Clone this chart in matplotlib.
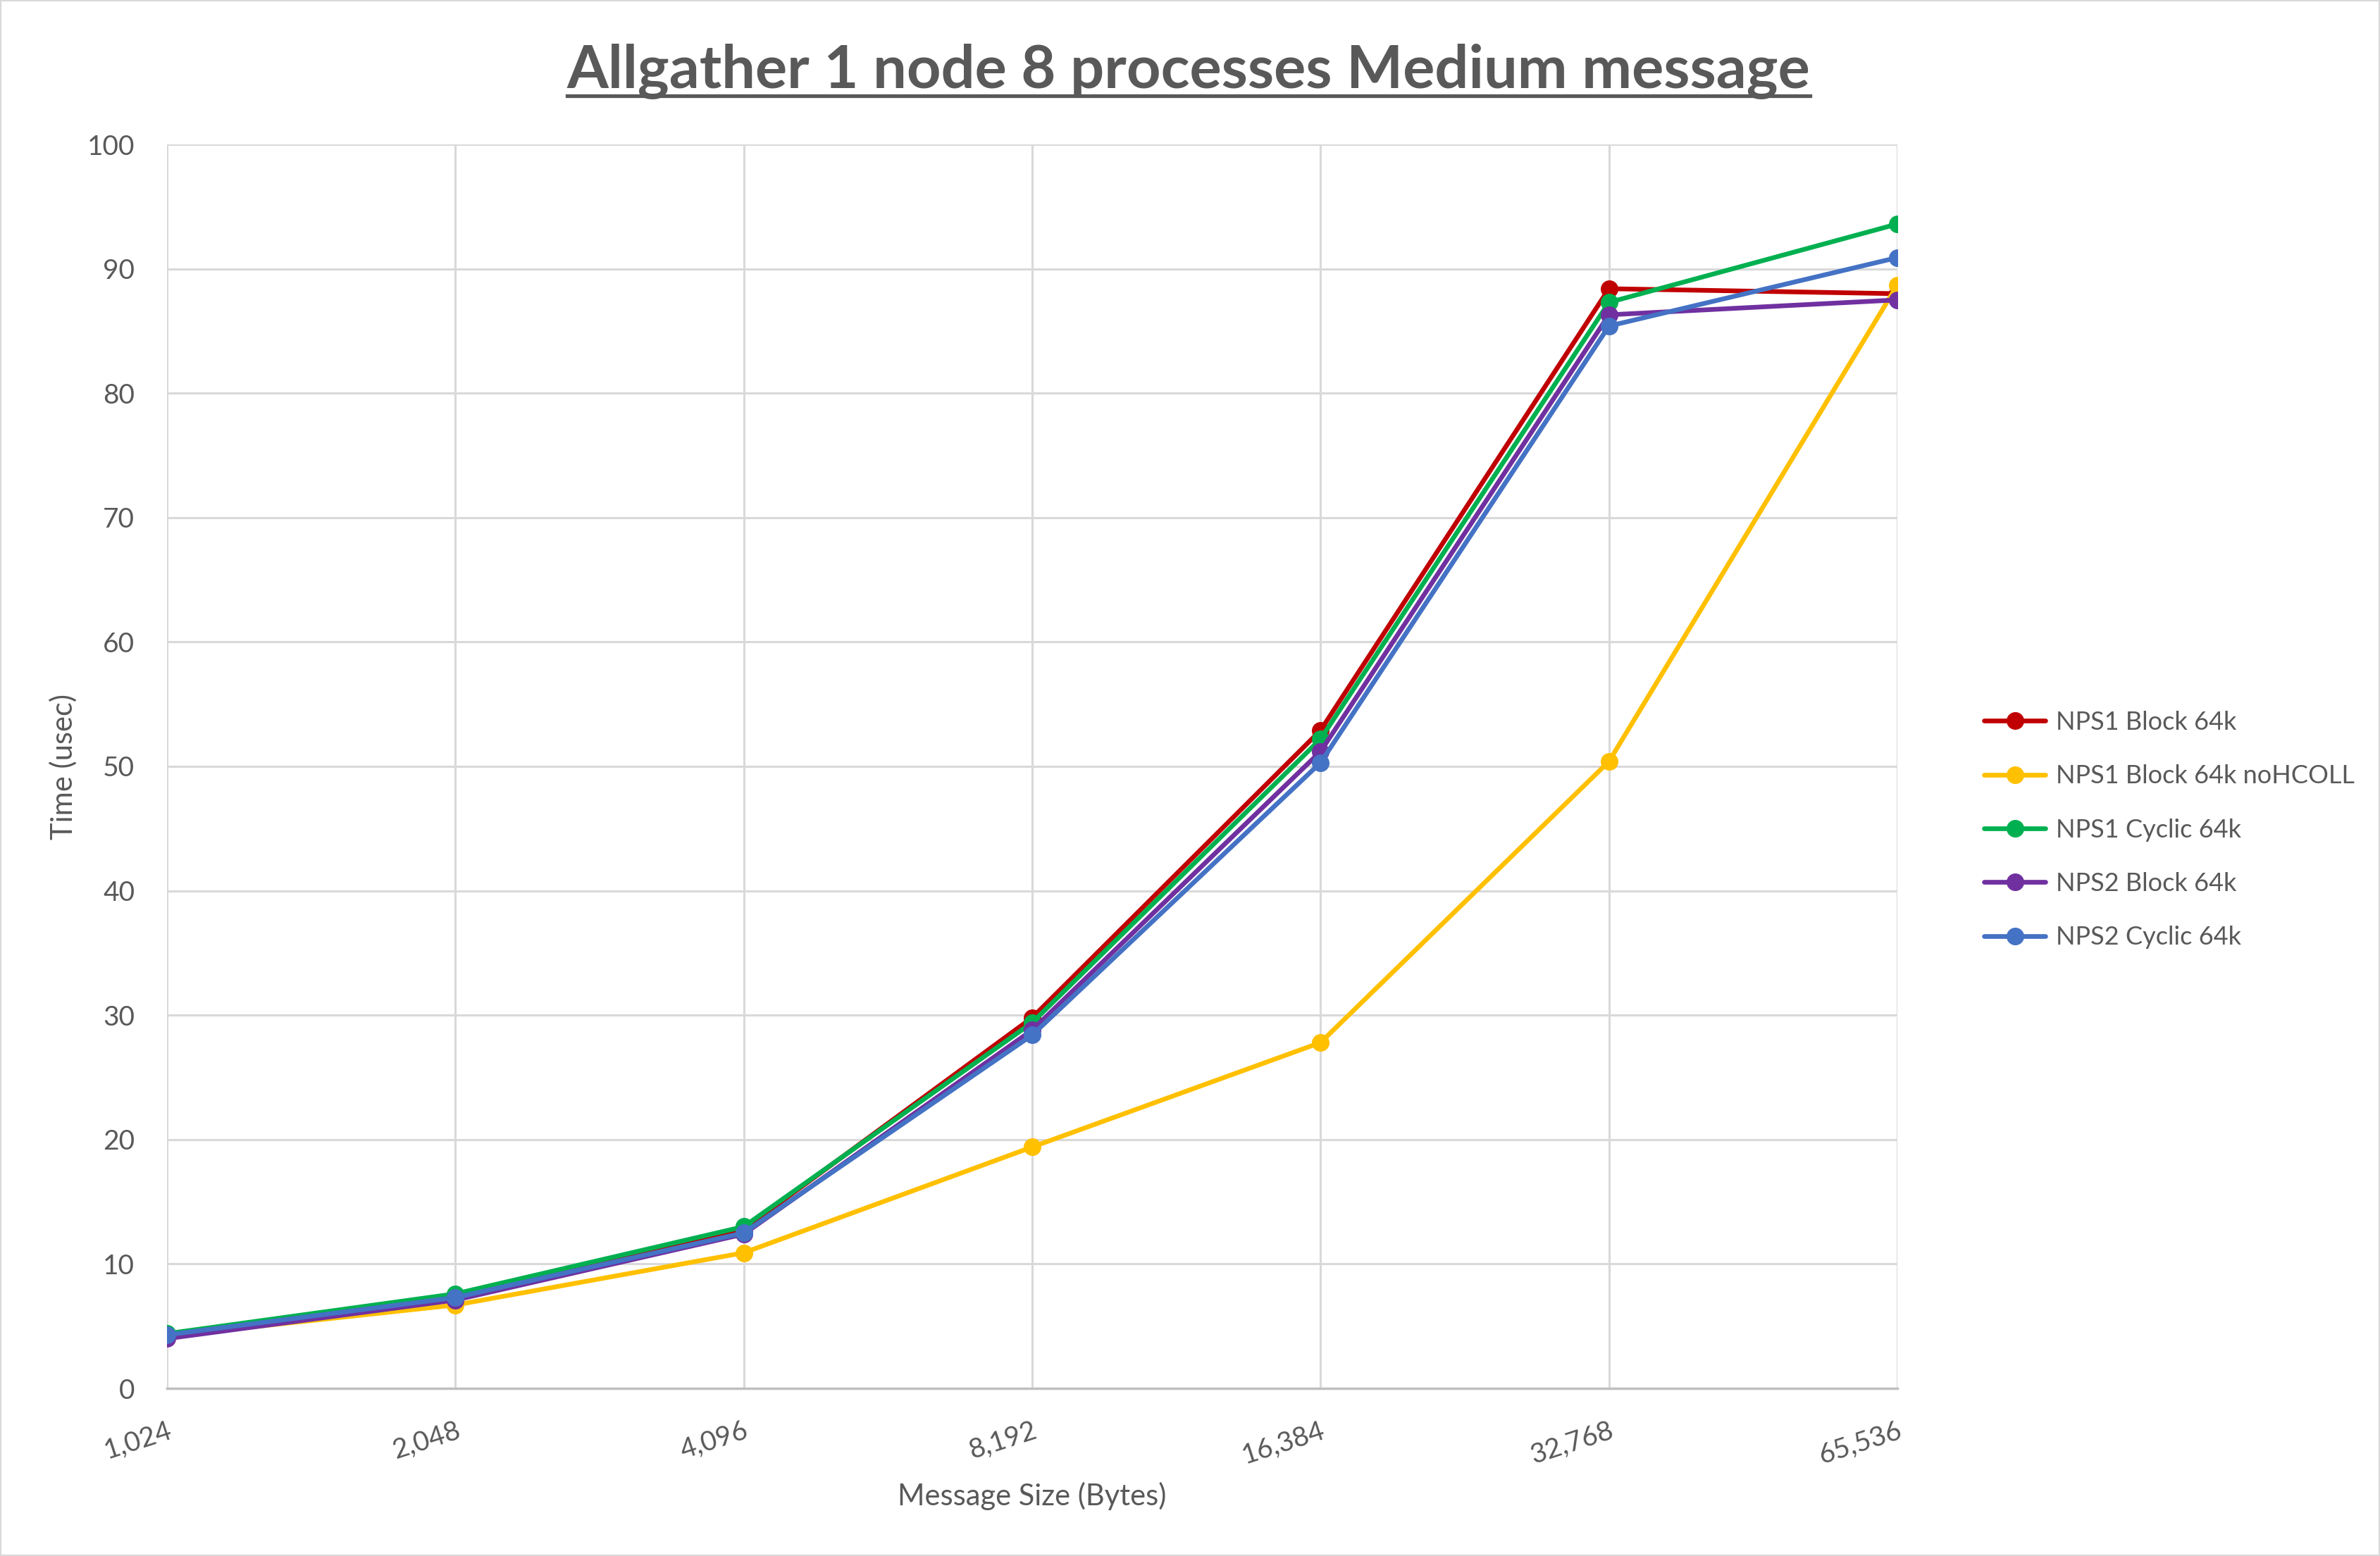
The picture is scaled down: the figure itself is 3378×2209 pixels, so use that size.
import matplotlib
matplotlib.use("Agg")
import matplotlib.pyplot as plt
from matplotlib.lines import Line2D
from matplotlib.patches import Rectangle

categories = ["1,024", "2,048", "4,096", "8,192", "16,384", "32,768", "65,536"]
series_names = ["NPS1 Block 64k", "NPS1 Block 64k noHCOLL", "NPS1 Cyclic 64k",
                "NPS2 Block 64k", "NPS2 Cyclic 64k"]
nps1_block = [4.3, 7.5, 12.8, 29.8, 52.9, 88.4, 88.0]
nps1_block_nohcoll = [4.2, 6.7, 10.9, 19.4, 27.8, 50.4, 88.7]
nps1_cyclic = [4.4, 7.6, 13.0, 29.4, 52.2, 87.3, 93.6]
nps2_block = [4.0, 7.1, 12.4, 28.8, 51.2, 86.3, 87.5]
nps2_cyclic = [4.3, 7.3, 12.5, 28.4, 50.3, 85.4, 90.9]
colors = ["#C00000", "#FFC000", "#00B050", "#7030A0", "#4472C4"]
y_ticks = [0, 10, 20, 30, 40, 50, 60, 70, 80, 90, 100]

data = [nps1_block, nps1_block_nohcoll, nps1_cyclic, nps2_block, nps2_cyclic]

FONT = ["Lato", "DejaVu Sans"]
TXT = "#595959"
plt.rcParams['font.family'] = FONT

W, H = 3378, 2209
fig = plt.figure(figsize=(W / 100, H / 100), dpi=100)
fig.patches.append(Rectangle((0, 0), 1, 1, transform=fig.transFigure,
                             fill=False, edgecolor="#D9D9D9", linewidth=3))
ax = fig.add_axes([237 / W, 1 - 1971 / H, (2693 - 237) / W, (1971 - 205) / H])

x = list(range(len(categories)))
for name, vals, c in zip(series_names, data, colors):
    ax.plot(x, vals, color=c, linewidth=4.8, marker="o", markersize=17,
            label=name, solid_capstyle="round", solid_joinstyle="round")

ax.set_xlim(0, len(categories) - 1)
ax.set_ylim(0, 100)
ax.set_yticks(y_ticks)
ax.set_xticks(x)
ax.set_xticklabels(categories, rotation=18, ha="right", rotation_mode="anchor")
ax.tick_params(axis="both", length=0, labelsize=28, colors=TXT)
ax.tick_params(axis="y", pad=33)
ax.tick_params(axis="x", pad=30)
ax.grid(True, color="#D9D9D9", linewidth=2.2)
ax.set_axisbelow(True)
for s in ["top", "right", "left"]:
    ax.spines[s].set_visible(False)
ax.spines["bottom"].set_color("#BFBFBF")
ax.spines["bottom"].set_linewidth(2.5)

ax.set_xlabel("Message Size (Bytes)", fontsize=30, color=TXT)
ax.xaxis.set_label_coords(0.5, (1971 - 2124) / 1766)
ax.xaxis.label.set_va("center")
ax.set_ylabel("Time (usec)", fontsize=30, color=TXT)
ax.yaxis.set_label_coords((90 - 237) / 2456, 0.5)
ax.yaxis.label.set_va("center")

leg = ax.legend(loc="center left", bbox_to_anchor=(1.037, 0.449), frameon=False,
                fontsize=26, labelcolor=TXT, handlelength=2.4, handletextpad=0.42,
                labelspacing=1.2)

title = fig.text(0.4994, 1 - 124 / H, "Allgather 1 node 8 processes Medium message",
                 ha="center", va="baseline", fontsize=61, fontweight="bold", color=TXT)
fig.canvas.draw()
bb = title.get_window_extent(fig.canvas.get_renderer())
x0, x1 = bb.x0 / W, bb.x1 / W
uy = 1 - 136 / H
fig.add_artist(Line2D([x0, x1], [uy, uy], transform=fig.transFigure,
                      color=TXT, linewidth=3.8))

fig.savefig("out.png", dpi=100)
